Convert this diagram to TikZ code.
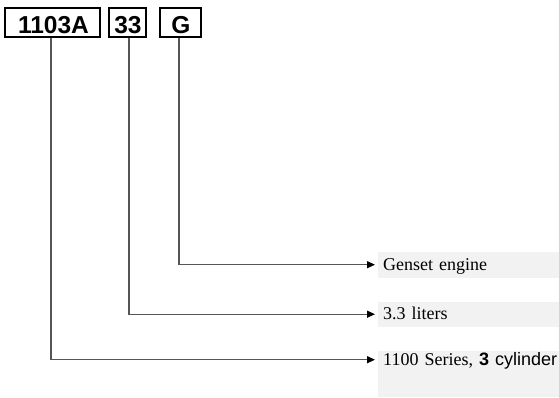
\documentclass[tikz,border=0pt]{standalone}
\usepackage{fontspec}
\setmainfont{Liberation Serif}
\newfontfamily\arialf{Liberation Sans}
\usetikzlibrary{arrows.meta}
\definecolor{linegray}{HTML}{555555}
\definecolor{labelgray}{HTML}{F2F2F2}
\tikzset{
  codebox/.style={draw=black, line width=1.5pt, inner xsep=0pt, inner ysep=0pt,
    text height=25pt, text depth=4pt},
  codetext/.style={font=\arialf\bfseries\fontsize{24.5}{27}\selectfont, inner sep=0pt, anchor=base},
  labelbox/.style={fill=labelgray, anchor=north west, inner xsep=5pt, inner ysep=0pt,
    minimum width=181pt, text width=176pt, align=left,
    font=\fontsize{18}{20}\selectfont},
  conn/.style={draw=linegray, line width=1.2pt,
    -{Triangle[length=8pt,width=7pt,color=black]}, shorten >=3pt}
}
\begin{document}
\begin{tikzpicture}[x=1pt,y=-1pt]
\useasboundingbox (0,0) rectangle (559,397);
% code boxes
\node[codebox, minimum width=95pt] (b1) at (52.5,22.5) {};
\node[codebox, minimum width=37pt] (b2) at (127.5,22.5) {};
\node[codebox, minimum width=41pt] (b3) at (180.5,22.5) {};
\node[codetext] (t1) at (53.5,33) {1103A};
\node[codetext] (t2) at (128,33) {33};
\node[codetext] (t3) at (181,33) {G};
% labels
\node[labelbox, text height=18pt, text depth=8pt] (l1) at (378,252) {\mbox{Genset engine}};
\node[labelbox, text height=17.5pt, text depth=7.5pt] (l2) at (378,302) {\mbox{3.3 liters}};
\node[labelbox, text height=14pt, text depth=32pt] (l3) at (378,351)
  {\mbox{1100 Series, {\arialf\bfseries 3} {\arialf cylinder}}};
% connectors
\coordinate (c1) at ([xshift=-1.5pt]b1.south);
\coordinate (c2) at ([xshift=1.5pt]b2.south);
\coordinate (c3) at ([xshift=-1.5pt]b3.south);
\draw[conn] (c3) |- ([yshift=5.5pt]l1.base west);
\draw[conn] (c2) |- ([yshift=5.5pt]l2.base west);
\draw[conn] (c1) |- ([yshift=5.5pt]l3.base west);
\end{tikzpicture}
\end{document}
